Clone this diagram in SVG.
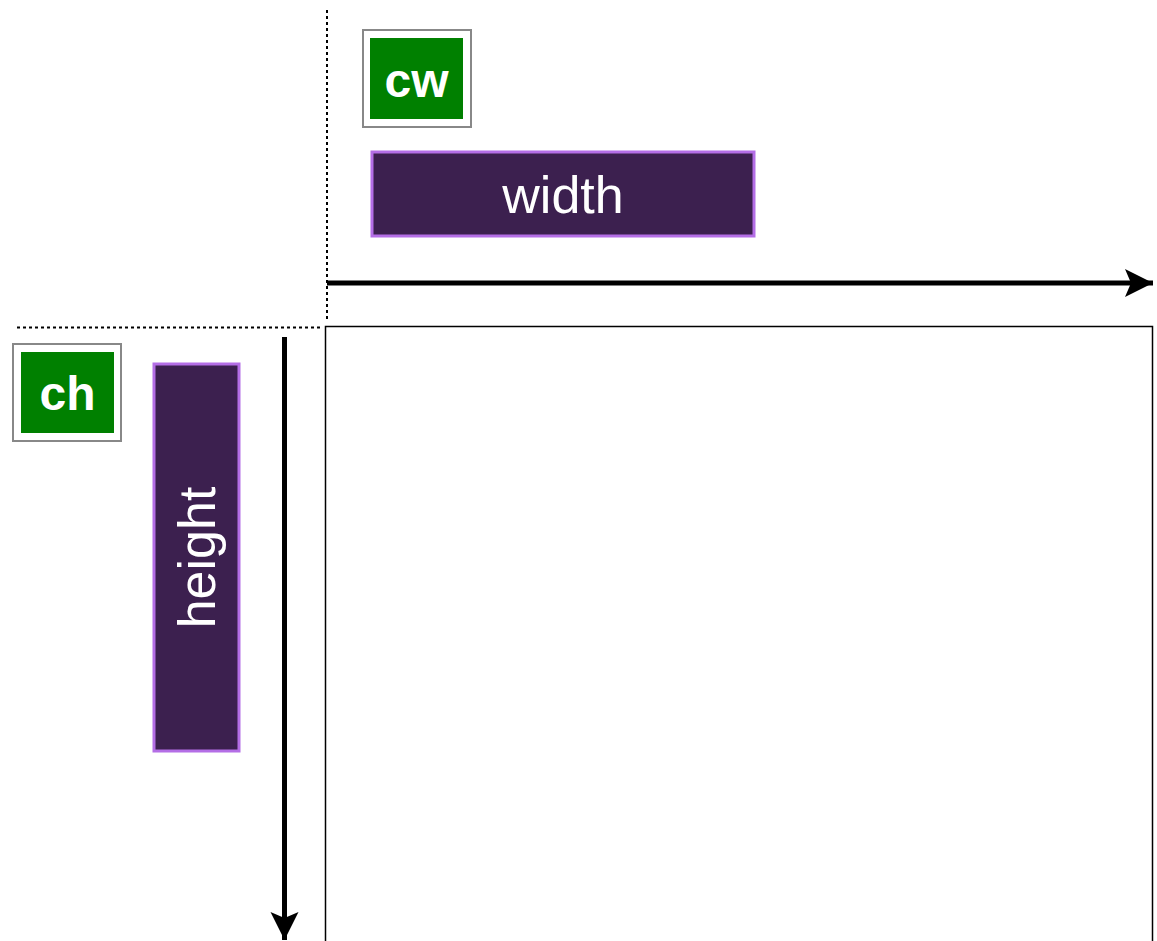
<svg xmlns="http://www.w3.org/2000/svg" width="1157" height="941" viewBox="0 0 1157 941">
<style>
.guide{stroke:#000;stroke-width:2;stroke-dasharray:3 3;fill:none}
.axis{stroke:#000;stroke-width:5;fill:none}
.outer{fill:#fff;stroke:#888;stroke-width:2}
.badge{fill:#008000}
.badgeText{fill:#fff;font-family:"Liberation Sans",Arial,sans-serif;font-weight:bold;font-size:48px;text-anchor:middle}
.bar{fill:#3c204f;stroke:#b46ee6;stroke-width:3}
.barText{fill:#fff;font-family:"Liberation Sans",Arial,sans-serif;font-size:52px;text-anchor:middle}
</style>
<defs>
<marker id="arr" markerUnits="userSpaceOnUse" markerWidth="32" markerHeight="32" viewBox="0 0 32 32" refX="28" refY="16" orient="auto">
<path d="M28,16 L0,2 L6,16 L0,30 Z" fill="#000"/>
</marker>
</defs>
<rect width="1157" height="941" fill="#fff"/>
<g id="connectors">
<line class="guide" x1="327" y1="10" x2="327" y2="320"/>
<line class="guide" x1="17" y1="327.5" x2="320" y2="327.5"/>
<line class="axis" x1="327" y1="283" x2="1153" y2="283" marker-end="url(#arr)"/>
<line class="axis" x1="284.5" y1="337" x2="284.5" y2="940" marker-end="url(#arr)"/>
</g>
<g id="canvas">
<rect x="325.5" y="326.5" width="827" height="620" fill="#fff" stroke="#000" stroke-width="1.5"/>
</g>
<g id="cw">
<rect class="outer" x="363" y="30" width="108" height="97"/>
<rect class="badge" x="370" y="38" width="93" height="81"/>
<text class="badgeText" x="416.5" y="97">cw</text>
</g>
<g id="width">
<rect class="bar" x="372" y="152" width="382" height="84"/>
<text class="barText" x="563" y="213">width</text>
</g>
<g id="ch">
<rect class="outer" x="13" y="344" width="108" height="97"/>
<rect class="badge" x="21" y="352" width="93" height="81"/>
<text class="badgeText" x="67.5" y="410">ch</text>
</g>
<g id="height">
<rect class="bar" x="154" y="364" width="85" height="387"/>
<text class="barText" transform="translate(215,557.5) rotate(-90)" x="0" y="0">height</text>
</g>
</svg>
